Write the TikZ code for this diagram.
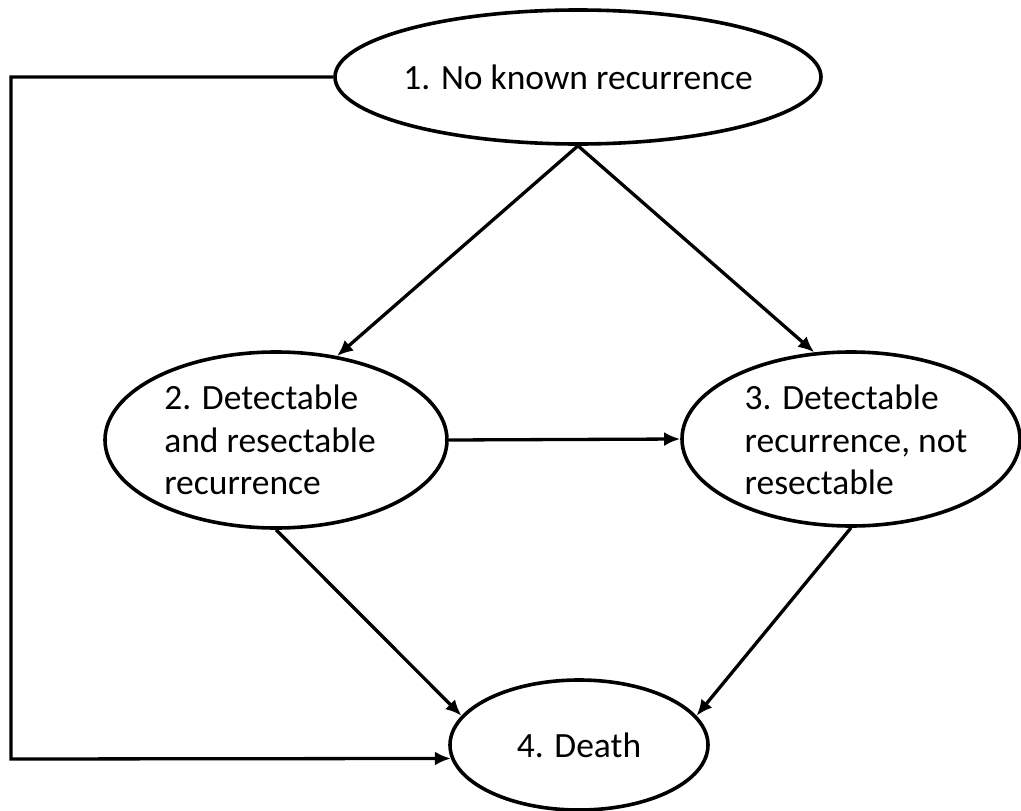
\documentclass[tikz,border=0pt]{standalone}
\usepackage{fontspec}
\setmainfont{Carlito}
\usetikzlibrary{shapes.geometric,arrows.meta}
\begin{document}
\begin{tikzpicture}[x=1pt,y=-1pt,
  state/.style={draw=black, line width=3.6pt, ellipse, inner sep=0pt, fill=white},
  lbl/.style={font=\fontsize{35.5}{42.5}\selectfont, align=left, inner sep=0pt, text=black},
  conn/.style={draw=black, line width=3.3pt, -{Latex[length=16pt,width=14pt]}},
  plain/.style={draw=black, line width=3.3pt}]
\useasboundingbox (0,0) rectangle (1021,811);
\node[state, minimum width=486pt, minimum height=134pt] (n1) at (578,77) {};
\node[lbl] (t1) at (n1) {1. No known recurrence};
\node[state, minimum width=342pt, minimum height=176pt] (n2) at (276,440) {};
\node[lbl] (t2) at (270,440) {2. Detectable\\and resectable\\recurrence};
\node[state, minimum width=338pt, minimum height=174pt] (n3) at (851,439) {};
\node[lbl] (t3) at (856,440) {3. Detectable\\recurrence, not\\resectable};
\node[state, minimum width=258pt, minimum height=130pt] (n4) at (579,745) {};
\node[lbl] (t4) at (n4) {4. Death};
\coordinate (c1) at (11,77);
\coordinate (c2) at (11,759);
\draw[conn] (n1.south) -- (n2.54);
\draw[conn] (n1.south) -- (n3.113);
\draw[conn] (n2.east) -- (n3.west);
\draw[conn] (n2.south) -- (n4.166);
\draw[conn] (n3.south) -- (n4.14);
\draw[conn] (n1.west) -- (c1) -- (c2) -- (n4.186);
\end{tikzpicture}
\end{document}
